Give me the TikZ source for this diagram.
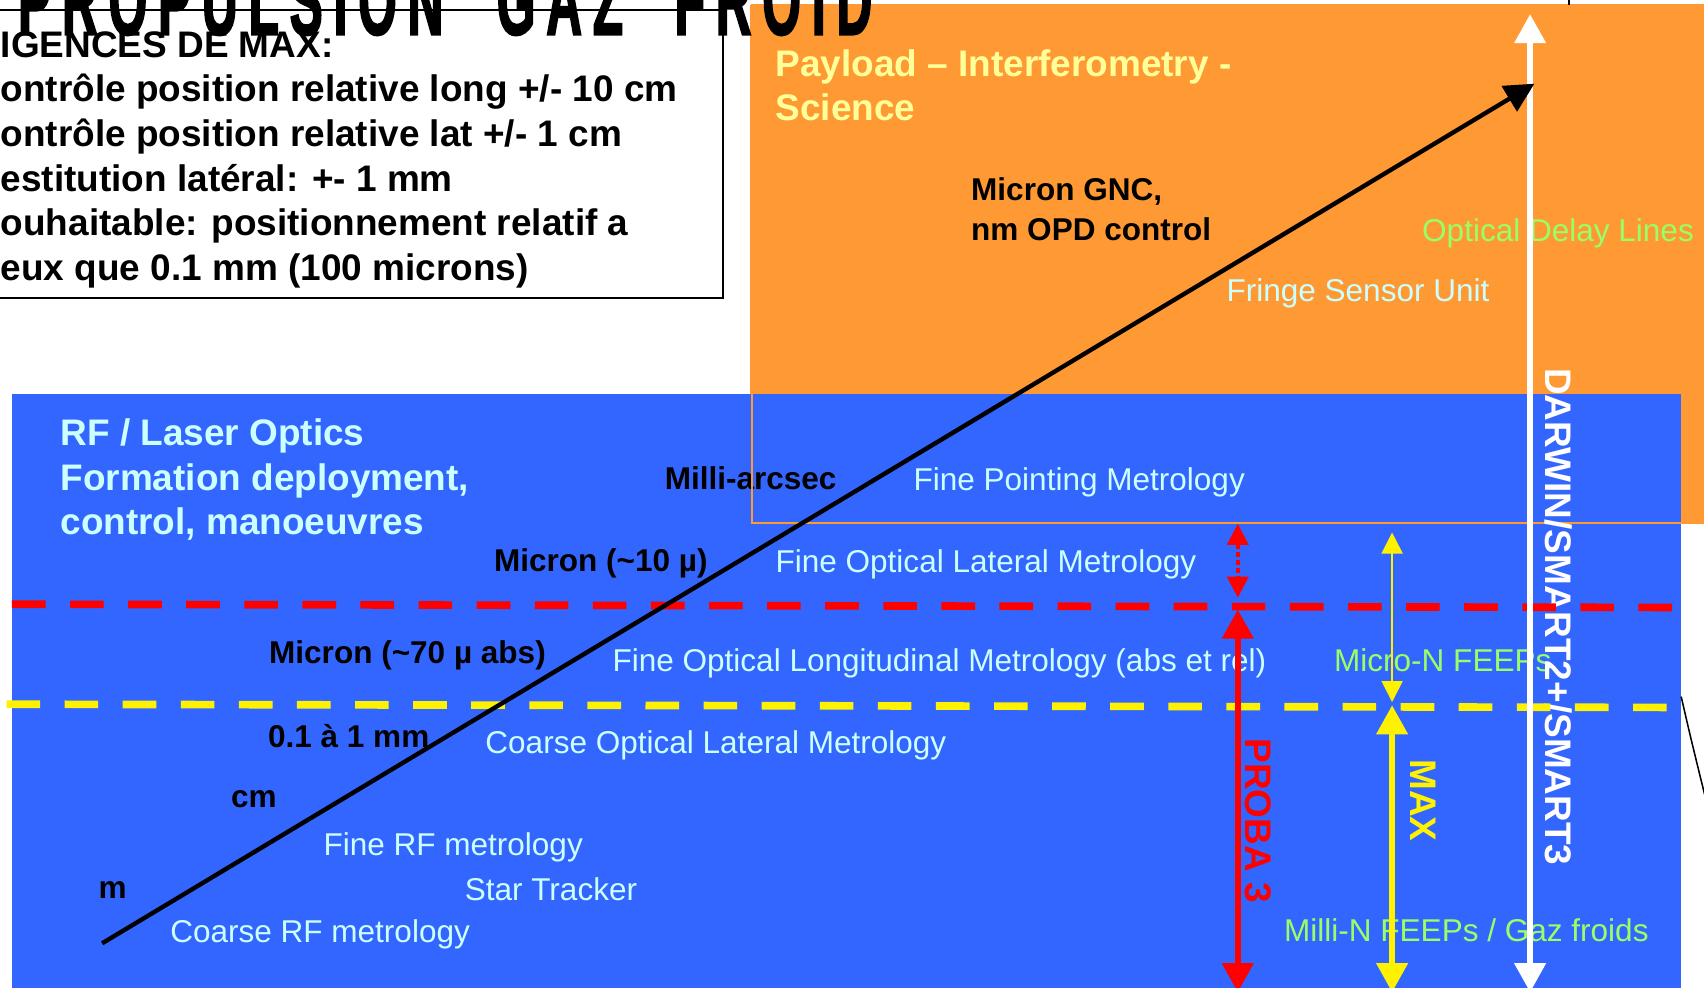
\documentclass[tikz,border=0pt]{standalone}
\usepackage{fontspec}
\setmainfont{Liberation Sans}
\newfontfamily\titlefont{Liberation Sans}[FakeStretch=0.5,LetterSpace=11,FakeBold=1.5]
\usetikzlibrary{arrows.meta}
\definecolor{bandblue}{RGB}{51,102,255}
\definecolor{payorange}{RGB}{255,153,51}
\definecolor{metrocyan}{RGB}{204,255,255}
\definecolor{thrustgreen}{RGB}{153,255,102}
\definecolor{payyellow}{RGB}{255,255,153}
\newcommand\bigsize{\fontsize{9.67}{11.67}\selectfont}
\newcommand\midsize{\fontsize{8.25}{10.5}\selectfont}
\tikzset{
    txt/.style={anchor=base west, inner sep=0pt, align=left},
    level/.style={txt, font=\bfseries\midsize, text=black},
    metro/.style={txt, font=\midsize, text=metrocyan},
    thruster/.style={txt, font=\midsize, text=thrustgreen},
    heading/.style={txt, font=\bfseries\bigsize},
    mission/.style={anchor=base west, inner sep=0pt, rotate=-90, font=\bfseries\bigsize},
    limit/.style={line width=2pt, dash pattern=on 8.8pt off 6.4pt},
    trend/.style={line width=1.15pt, -{Triangle[length=7.7pt,width=7.6pt]}},
    spanarrow/.style={line width=1.45pt, {Triangle[length=7.6pt,width=8pt]}-{Triangle[length=7.6pt,width=8pt]}},
    thinspan/.style={{Triangle[length=5.5pt,width=5.5pt]}-{Triangle[length=5.5pt,width=5.5pt]}}
}
\begin{document}
\begin{tikzpicture}[x=0.01cm, y=-0.01cm]
    \useasboundingbox (0,0) rectangle (1568,909);
    \clip (0,0) rectangle (1568,909);
    % background zones
    \fill[payorange] (690,5) rectangle (1580,481);
    \fill[bandblue] (11,363) rectangle (1547,930);
    \draw[payorange, line width=0.5pt] (692,5) rectangle (1580,481);
    % requirements box
    \draw[line width=0.5pt] (-20,9) rectangle (665,274);
    \node[txt, font=\titlefont\bfseries\fontsize{25.9}{30}\selectfont] (title) at (16,32) {PROPULSION\hspace{14pt}GAZ\hspace{13.5pt}FROID};
    \node[heading] (req) at (0,258) {IGENCES DE MAX:\\ontrôle position relative long +/- 10 cm\\ontrôle position relative lat +/- 1 cm\\estitution latéral: +- 1 mm\\ouhaitable: positionnement relatif a\\eux que 0.1 mm (100 microns)};
    % payload zone
    \node[heading, text=payyellow] (pay) at (713,111) {Payload -- Interferometry -\\Science};
    \node[level] (gnc) at (893,221) {Micron GNC,\\nm OPD control};
    \node[thruster] (odl) at (1308,222) {Optical Delay Lines};
    \node[metro] (fsu) at (1128,277) {Fringe Sensor Unit};
    % formation flying zone
    \node[heading, text=metrocyan] (rf) at (55,492) {RF / Laser Optics\\Formation deployment,\\control, manoeuvres};
    \node[level] (mas) at (611,450) {Milli-arcsec};
    \node[metro] (fpm) at (840,451) {Fine Pointing Metrology};
    \node[level] (mu10) at (454,526) {Micron (\textasciitilde10 µ)};
    \node[metro] (fol) at (713,527) {Fine Optical Lateral Metrology};
    \node[level] (mu70) at (247,611) {Micron (\textasciitilde70 µ abs)};
    \node[metro] (folong) at (563,618) {Fine Optical Longitudinal Metrology (abs et rel)};
    \node[thruster] (feep) at (1227,618) {Micro-N FEEPs};
    \node[level] (mm) at (246,688) {0.1 à 1 mm};
    \node[metro] (col) at (446,693) {Coarse Optical Lateral Metrology};
    \node[level] (cm) at (212,743) {cm};
    \node[metro] (frf) at (297,787) {Fine RF metrology};
    \node[level] (m) at (90,827) {m};
    \node[metro] (st) at (427,829) {Star Tracker};
    \node[metro] (crf) at (156,867) {Coarse RF metrology};
    \node[thruster] (gaz) at (1181,866) {Milli-N FEEPs / Gaz froids};
    \draw[payorange, line width=0.5pt] (692,363) -- (692,481) -- (1547,481);
    % missions
    \node[mission, text=white] (darwin) at (1422,338) {DARWIN/SMART2+/SMART3};
    \node[mission, text=red] (proba) at (1146,679) {PROBA 3};
    \node[mission, text=yellow] (max) at (1298,698) {MAX};
    % limits
    \draw[limit, red] (11,556) -- (1547,559);
    \draw[limit, yellow] (6,648) -- (1545,651);
    % arrows
    \coordinate (dtop) at (1408,13);
    \coordinate (dbot) at (1408,913);
    \coordinate (pfine) at (1139,482);
    \coordinate (pdash) at (1139,550);
    \coordinate (pup) at (1139,561);
    \coordinate (pbot) at (1139,913);
    \coordinate (mtop) at (1281,490);
    \coordinate (mdash) at (1281,646);
    \coordinate (mup) at (1281,649);
    \coordinate (mbot) at (1281,913);
    \coordinate (low) at (94,868);
    \coordinate (high) at (1412,77);
    \draw[spanarrow, white] (dbot) -- (dtop);
    \draw[thinspan, red, line width=0.9pt, dash pattern=on 1.2pt off 0.9pt] (pfine) -- (pdash);
    \draw[spanarrow, red] (pup) -- (pbot);
    \draw[thinspan, yellow, line width=0.45pt] (mtop) -- (mdash);
    \draw[spanarrow, yellow] (mup) -- (mbot);
    \draw[trend] (low) -- (high);
    % pieces of the next drawing
    \draw[line width=0.4pt] (1547,641) .. controls (1556,680) .. (1572,745);
    \draw[line width=0.4pt] (1444,-2) -- (1444,5);
\end{tikzpicture}
\end{document}
